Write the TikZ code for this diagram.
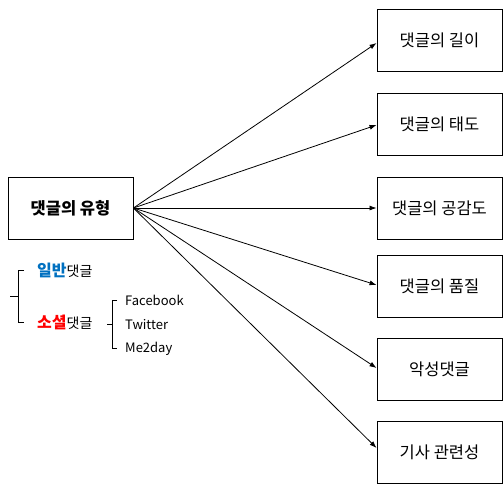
\documentclass[tikz,border=0pt]{standalone}
\usepackage{fontspec}
\setmainfont{Noto Sans CJK KR}
\usetikzlibrary{arrows.meta}
\begin{document}
\begin{tikzpicture}[x=1pt,y=-1pt,
  box/.style={draw,line width=0.9pt,minimum width=125pt,minimum height=62pt,inner sep=0pt,font=\fontsize{16.5}{18}\selectfont},
  arr/.style={line width=0.8pt,-{Latex[length=7pt,width=5pt]}},
  small/.style={font=\fontsize{13}{15}\selectfont,inner sep=0pt,anchor=west},
  br/.style={line width=0.6pt}]
\useasboundingbox (0,0) rectangle (503,483);
\node[box,font=\fontsize{16.5}{18}\selectfont\bfseries] (main) at (70.5,208) {댓글의 유형};
\node[box] (b1) at (439.5,40) {댓글의 길이};
\node[box] (b2) at (439.5,124.5) {댓글의 태도};
\node[box] (b3) at (439.5,208) {댓글의 공감도};
\node[box] (b4) at (439.5,286) {댓글의 품질};
\node[box] (b5) at (439.5,369.5) {악성댓글};
\node[box] (b6) at (439.5,452.5) {기사 관련성};
\coordinate (o) at (main.east);
\foreach \b/\y in {b1/43,b2/125,b3/208,b4/285,b5/368,b6/448}{
  \draw[arr] (o) -- (\b.west |- 0,\y);
}
% first bracket
\coordinate (t1) at (24,270);
\coordinate (t2) at (24,322);
\draw[br] (t1) -- (18,270) -- (18,322) -- (t2);
\draw[br] (10,296) -- (18,296);
\node[small,anchor=west,font=\fontsize{14}{16}\selectfont] (g1) at (37,270) {\textcolor[RGB]{0,112,192}{\fontsize{16}{18}\selectfont\bfseries 일반}댓글};
\node[small,anchor=west,font=\fontsize{14}{16}\selectfont] (g2) at (37,322) {\textcolor[RGB]{255,0,0}{\fontsize{16}{18}\selectfont\bfseries 소셜}댓글};
% second bracket
\draw[br] (117,300) -- (112,300) -- (112,348) -- (117,348);
\draw[br] (107,324) -- (112,324);
\node[small] (s1) at (125,300) {Facebook};
\node[small] (s2) at (125,325) {Twitter};
\node[small] (s3) at (125,349) {Me2day};
\end{tikzpicture}
\end{document}
